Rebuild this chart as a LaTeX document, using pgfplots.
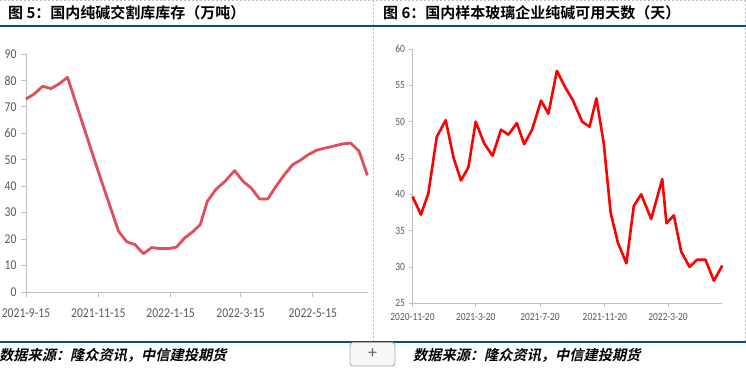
\documentclass[border=0pt]{standalone}
\usepackage{pgfplots}
\pgfplotsset{compat=1.18}
\usepackage{fontspec}
\setmainfont{Carlito}
\newfontfamily\cjktitle{Noto Sans CJK SC Bold}
\newfontfamily\cjkfoot[FakeSlant=0.22]{Noto Sans CJK SC Bold}
\newfontfamily\tickfont[FakeStretch=0.86]{Carlito}
\definecolor{bluebar}{RGB}{16,74,125}
\definecolor{axgray}{RGB}{191,191,191}
\definecolor{ticktext}{RGB}{89,89,89}
\definecolor{linepink}{RGB}{224,78,92}
\definecolor{dashgray}{RGB}{190,190,190}

\pgfplotstableread{
x y
0 73.0
7 74.9
14 77.8
21 76.9
28 78.7
35 81.2
61 45.5
78 23.0
85 19.0
92 17.9
99 14.5
106 16.8
113 16.4
120 16.4
127 17.0
134 20.5
141 22.9
147 25.5
153 34.3
160 38.7
168 41.9
176 45.9
183 41.9
190 39.3
197 35.2
204 35.2
211 40.0
218 44.4
225 48.2
231 49.7
238 51.9
245 53.6
253 54.5
259 55.1
267 56.0
274 56.3
281 53.2
288 44.1
}\leftdata

\pgfplotstableread{
x y
0 39.7
16 37.2
30 40.1
46 47.9
63 50.2
78 45.0
92 41.9
106 43.7
120 50.0
136 47.0
152 45.3
168 48.9
182 48.2
198 49.8
212 46.9
227 48.9
244 52.9
258 51.1
274 57.0
290 54.7
304 53.0
322 50.0
336 49.3
349 53.2
363 47.0
376 37.5
390 33.3
406 30.5
420 38.4
434 40.0
453 36.6
474 42.1
482 36.0
496 37.1
510 32.1
526 30.0
540 31.0
556 31.0
572 28.1
588 30.2
}\rightdata

\begin{document}
\begin{tikzpicture}
\useasboundingbox (0pt,0pt) rectangle (746pt,379pt);
\fill[white] (0pt,0pt) rectangle (746pt,379pt);
% dashed frame
\draw[dashgray, dash pattern=on 2pt off 2pt, line width=0.8pt] (0pt,378.4pt) -- (746pt,378.4pt);
\draw[dashgray, dash pattern=on 2pt off 2pt, line width=0.8pt] (373.5pt,379pt) -- (373.5pt,38pt);
\draw[dashgray, dash pattern=on 2pt off 2pt, line width=0.8pt] (745.4pt,379pt) -- (745.4pt,38pt);
% blue rules
\fill[bluebar] (0pt,352pt) rectangle (746pt,354pt);
\fill[bluebar] (0pt,36.3pt) rectangle (746pt,38.3pt);
% titles
\node[anchor=base west, inner sep=0pt, font=\cjktitle\fontsize{15}{17}\selectfont] at (8pt,360.5pt) {图 5：国内纯碱交割库库存（万吨）};
\node[anchor=base west, inner sep=0pt, font=\cjktitle\fontsize{15}{17}\selectfont] at (383pt,360.5pt) {图 6：国内样本玻璃企业纯碱可用天数（天）};
% footers
\node[anchor=base west, inner sep=0pt, font=\cjkfoot\fontsize{14.2}{16}\selectfont] at (-1pt,18pt) {数据来源：隆众资讯，中信建投期货};
\node[anchor=base west, inner sep=0pt, font=\cjkfoot\fontsize{14.2}{16}\selectfont] at (413pt,18pt) {数据来源：隆众资讯，中信建投期货};
% button
\draw[rounded corners=3pt, draw=gray!65, fill=gray!6, line width=0.9pt] (350pt,13pt) rectangle (395pt,36.5pt);
\node[text=gray!80!black, font=\fontsize{18}{18}\selectfont] at (372.5pt,25pt) {+};

% left chart
\begin{axis}[
  at={(26pt,87pt)}, anchor=south west,
  scale only axis, width=342pt, height=238pt,
  xmin=0, xmax=288.5, ymin=0, ymax=90,
  axis lines*=left,
  axis line style={axgray, line width=0.8pt},
  tick style={axgray, line width=0.8pt},
  tick align=outside, major tick length=5pt,
  xtick={0,61,122,181,242},
  xticklabels={2021-9-15,2021-11-15,2022-1-15,2022-3-15,2022-5-15},
  ytick={0,10,...,90},
  ticklabel style={font=\tickfont\fontsize{13.5}{14}\selectfont, text=ticktext},
  xticklabel style={yshift=-8pt},
  yticklabel style={xshift=-1pt},
  /pgf/number format/assume math mode=true,
  clip=false,
]
\addplot[linepink, line width=2.8pt, line join=round] table[x=x,y=y] {\leftdata};
\end{axis}

% right chart
\begin{axis}[
  at={(412.5pt,75.7pt)}, anchor=south west,
  scale only axis, width=309.8pt, height=254.3pt,
  xmin=0, xmax=588, ymin=25, ymax=60,
  axis lines*=left,
  axis line style={axgray, line width=0.8pt},
  tick style={axgray, line width=0.8pt},
  tick align=outside, major tick length=4pt,
  xtick={0,120,242,365,485},
  xticklabels={2020-11-20,2021-3-20,2021-7-20,2021-11-20,2022-3-20},
  ytick={25,30,...,60},
  ticklabel style={font=\tickfont\fontsize{11}{12}\selectfont, text=ticktext},
  xticklabel style={yshift=-3pt},
  /pgf/number format/assume math mode=true,
  clip=false,
]
\addplot[red, line width=2.6pt, line join=round] table[x=x,y=y] {\rightdata};
\end{axis}
\end{tikzpicture}
\end{document}
